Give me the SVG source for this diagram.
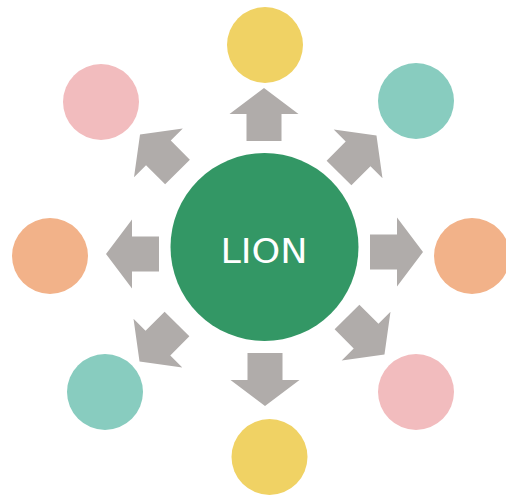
<svg xmlns="http://www.w3.org/2000/svg" width="506" height="495" viewBox="0 0 506 495">
  <defs>
    <style>
      .arrow { fill: #B0ACAA; }
      .yellow { fill: #F0D264; }
      .teal { fill: #88CCBF; }
      .orange { fill: #F2B289; }
      .pink { fill: #F2BCBE; }
      .hub { fill: #339765; }
      .label { font-family: "DejaVu Sans", Verdana, sans-serif; font-size: 33.5px; fill: #FFFFFF; text-anchor: middle; }
    </style>
    <!-- block arrow pointing along +x, origin at the middle of the shaft base -->
    <polygon id="block-arrow" points="0,-17.5 27,-17.5 27,-34.5 53,0 27,34.5 27,17.5 0,17.5"/>
  </defs>

  <g id="connectors">
    <use href="#block-arrow" class="arrow" transform="translate(264,141) rotate(-90)"/>
    <use href="#block-arrow" class="arrow" transform="translate(339,173) rotate(-45)"/>
    <use href="#block-arrow" class="arrow" transform="translate(370,252)"/>
    <use href="#block-arrow" class="arrow" transform="translate(347,317) rotate(45)"/>
    <use href="#block-arrow" class="arrow" transform="translate(265,353) rotate(90)"/>
    <use href="#block-arrow" class="arrow" transform="translate(177,324) rotate(135)"/>
    <use href="#block-arrow" class="arrow" transform="translate(159,254) rotate(180)"/>
    <use href="#block-arrow" class="arrow" transform="translate(177.5,172) rotate(-135)"/>
  </g>

  <g id="lion">
    <circle class="hub" cx="264.5" cy="247" r="94"/>
    <!-- label is slightly widened horizontally -->
    <text class="label" transform="translate(264,262.5) scale(1.09,1)" x="0" y="0">LION</text>
  </g>

  <g id="n-top"><circle class="yellow" cx="265" cy="45" r="38"/></g>
  <g id="n-top-right"><circle class="teal" cx="416" cy="101" r="38"/></g>
  <g id="n-right"><circle class="orange" cx="472" cy="256" r="38"/></g>
  <g id="n-bottom-right"><circle class="pink" cx="416" cy="392" r="38"/></g>
  <g id="n-bottom"><circle class="yellow" cx="269.5" cy="457" r="38"/></g>
  <g id="n-bottom-left"><circle class="teal" cx="105" cy="392" r="38"/></g>
  <g id="n-left"><circle class="orange" cx="50" cy="256" r="38"/></g>
  <g id="n-top-left"><circle class="pink" cx="101" cy="102" r="38"/></g>
</svg>
